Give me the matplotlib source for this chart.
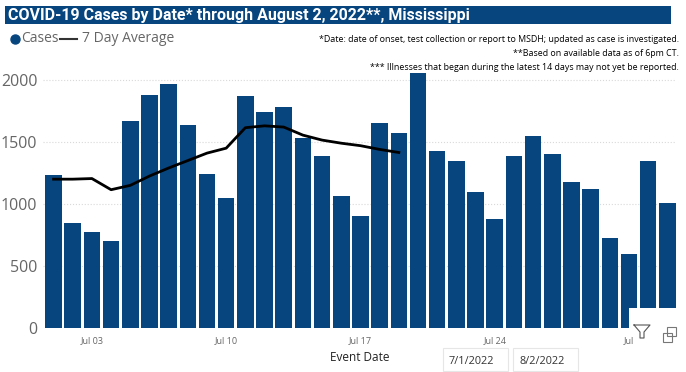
import matplotlib
matplotlib.use('Agg')
import matplotlib.pyplot as plt
from matplotlib.lines import Line2D
from matplotlib.patches import Rectangle
import numpy as np

plt.rcParams['font.family'] = ['Open Sans', 'DejaVu Sans']

title = 'COVID-19 Cases by Date* through August 2, 2022**, Mississippi'
notes = ['*Date: date of onset, test collection or report to MSDH; updated as case is investigated.',
         '**Based on available data as of 6pm CT.',
         '*** Illnesses that began during the latest 14 days may not yet be reported.']

# one bar per day, Jul 1 to Aug 2
cases = [1230, 850, 770, 700, 1670, 1880, 1970, 1640, 1240, 1050, 1870, 1745, 1780,
         1535, 1390, 1065, 905, 1650, 1570, 2100, 1425, 1350, 1095, 880, 1390, 1545,
         1400, 1180, 1120, 725, 600, 1350, 1010]
# average stops 14 days before the end
avg_7day = [1200, 1200, 1205, 1115, 1150, 1225, 1290, 1350, 1410, 1450, 1615, 1630,
            1620, 1555, 1515, 1490, 1470, 1440, 1415]
tick_days = [3, 10, 17, 24, 31]
tick_labels = ['Jul 03', 'Jul 10', 'Jul 17', 'Jul 24', 'Jul']
yticks = [0, 500, 1000, 1500, 2000]
date_from = '7/1/2022'
date_to = '8/2/2022'

W, H = 686, 372
BLUE = '#07457f'
GREY = '#666666'

fig = plt.figure(figsize=(W / 100, H / 100), dpi=100)

def px(x, y):
    return x / W, 1 - y / H

# title band
fig.add_artist(Rectangle(px(5, 24), 333 * 2 / W - 333 / W + (676 - 338) / W - 5 / W + 0 / W, 18 / H,
                         transform=fig.transFigure, color=BLUE, lw=0))
fig.text(*px(8, 15.5), title, color='white', fontsize=11.5, fontweight='bold',
         family=['Roboto', 'DejaVu Sans'], va='center', ha='left')

# plot area
ax = fig.add_axes([43 / W, 1 - 328 / H, (676 - 43) / W, (328 - 73) / H])
days = np.arange(1, len(cases) + 1)
ax.bar(days, cases, width=0.86, color=BLUE, zorder=2)
ax.plot(days[:len(avg_7day)], avg_7day, color='black', lw=2, zorder=3)
ax.set_xlim(0.45, 33.45)
ax.set_ylim(0, 2056)
ax.set_yticks(yticks)
ax.set_xticks(tick_days)
ax.set_xticklabels(tick_labels)
ax.tick_params(axis='x', length=0, labelsize=6.5, labelcolor=GREY, pad=6)
ax.tick_params(axis='y', length=0, labelsize=11.5, labelcolor=GREY, pad=4)
ax.grid(axis='y', color='#d9d9d9', ls=':', lw=0.8, zorder=0)
for s in ax.spines.values():
    s.set_visible(False)
ax.set_xlabel('Event Date', fontsize=8.5, color='#222222', labelpad=4)

# legend
fig.add_artist(Line2D([px(15, 0)[0]], [px(0, 39)[1]], marker='o', ms=6.5, color=BLUE,
                      transform=fig.transFigure))
fig.text(*px(21, 39), 'Cases', color=GREY, fontsize=10, va='center')
fig.add_artist(Line2D([60 / W, 77 / W], [1 - 39 / H] * 2, color='#333333', lw=1.5,
                      transform=fig.transFigure))
fig.text(*px(82, 39), '7 Day Average', color=GREY, fontsize=10, va='center')

# notes
for y, note in zip([40, 53.5, 67], notes):
    fig.text(*px(679, y), note, color='black', fontsize=6.4, ha='right', va='center')

# visual header icons
fig.add_artist(Rectangle(px(629, 330), 54 / W, 22 / H, transform=fig.transFigure,
                         color='white', lw=0, zorder=5))
fig.add_artist(Line2D([634 / W, 650 / W, 644 / W, 644 / W, 640 / W, 640 / W, 634 / W],
                      [1 - y / H for y in [325, 325, 332, 338, 338, 332, 325]],
                      color='#555555', lw=0.8, transform=fig.transFigure, zorder=6))
fig.add_artist(Rectangle(px(663, 342), 9 / W, 9 / H, transform=fig.transFigure,
                         fill=False, ec='#777777', lw=0.8, zorder=6))
fig.add_artist(Rectangle(px(667, 336), 9 / W, 9 / H, transform=fig.transFigure,
                         fill=False, ec='#777777', lw=0.8, zorder=6))

# date slicer boxes
for x0, w, label in [(443, 65, date_from), (513, 65, date_to)]:
    fig.add_artist(Rectangle(px(x0, 371), w / W, 23 / H, transform=fig.transFigure,
                             fill=False, ec='#e6e6e6', lw=0.8))
    fig.text(*px(x0 + 6, 361), label, color='#333333', fontsize=7.8, va='center')

fig.savefig('out.png', dpi=100)
